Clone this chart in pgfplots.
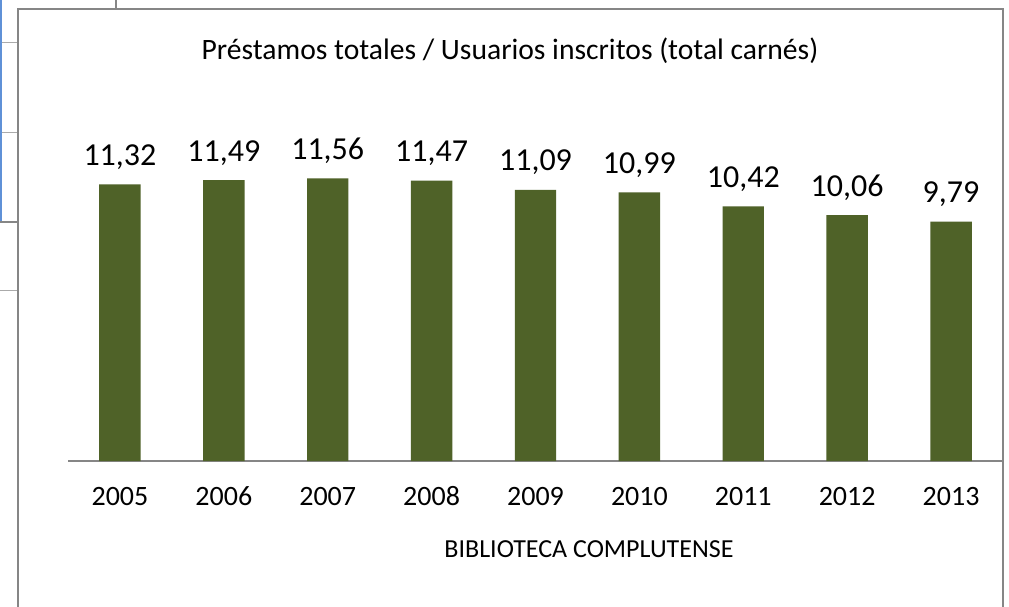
\documentclass[border=0pt]{standalone}
\usepackage{pgfplots}
\pgfplotsset{compat=1.18}
\usepackage{fontspec}
\setmainfont{Carlito}
\definecolor{barolive}{RGB}{79,98,40}
\definecolor{bordergray}{RGB}{134,134,134}
\definecolor{gridgray}{RGB}{170,170,170}
\definecolor{selblue}{RGB}{95,145,215}
\begin{document}
\begin{tikzpicture}[x=1pt,y=1pt]
\path[use as bounding box] (0,0) rectangle (1009,606);
\fill[white] (0,0) rectangle (1009,606);
% spreadsheet cells behind the chart
\draw[gridgray, line width=1.2pt] (0,606-42.7) -- (18,606-42.7);
\draw[gridgray, line width=1.2pt] (0,606-132.7) -- (18,606-132.7);
\draw[bordergray, line width=1.8pt] (0,606-221.7) -- (18,606-221.7);
\draw[gridgray, line width=1.2pt] (0,606-290.7) -- (18,606-290.7);
\draw[selblue, line width=1.5pt] (1,606) -- (1,606-221);
\draw[bordergray, line width=1.2pt] (116,606) -- (116,606-9);
% chart border
\draw[bordergray, line width=1.8pt] (18,-10) -- (18,606-9) -- (1003,606-9) -- (1003,-10);
\begin{axis}[
  at={(68pt,145pt)}, anchor=south west,
  scale only axis, width=935pt, height=361pt,
  xmin=-0.5, xmax=8.5, ymin=0, ymax=14.77,
  axis y line=none, axis x line*=bottom,
  axis line style={-, draw=bordergray, line width=2pt},
  xtick={0,1,2,3,4,5,6,7,8},
  xticklabels={2005,2006,2007,2008,2009,2010,2011,2012,2013},
  major tick length=0pt,
  xticklabel style={font=\fontsize{28}{32}\selectfont, anchor=base, yshift=-44pt},
  /pgf/number format/assume math mode=true,
  ybar, bar width=41.4pt,
  nodes near coords={\pgfmathprintnumber[fixed,zerofill,precision=2,use comma]{\pgfplotspointmeta}},
  every node near coord/.append style={font=\fontsize{32}{36}\selectfont, anchor=base, yshift=19pt, inner sep=0pt},
  clip=false,
]
\addplot[fill=barolive, draw=none] coordinates {
  (0,11.32) (1,11.49) (2,11.56) (3,11.47) (4,11.09) (5,10.99) (6,10.42) (7,10.06) (8,9.79)
};
\end{axis}
\node[anchor=base, font=\fontsize{29.6}{34}\selectfont] at (510,546.7) {Préstamos totales / Usuarios inscritos (total carnés)};
\node[anchor=base, font=\fontsize{26}{30}\selectfont] at (589,49) {BIBLIOTECA COMPLUTENSE};
\end{tikzpicture}
\end{document}
